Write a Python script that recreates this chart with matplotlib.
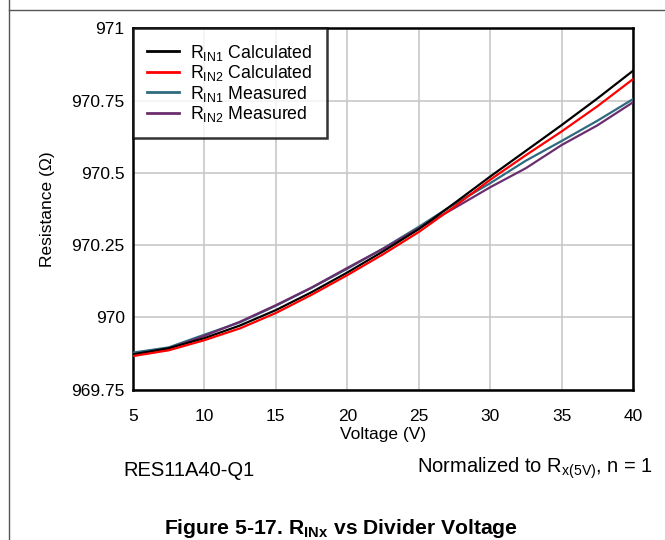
import numpy as np
import matplotlib
matplotlib.use('Agg')
import matplotlib.pyplot as plt
from matplotlib.lines import Line2D

plt.rcParams['font.family'] = ['Liberation Sans', 'DejaVu Sans']
plt.rcParams['mathtext.fontset'] = 'custom'
plt.rcParams['mathtext.rm'] = 'Liberation Sans'
plt.rcParams['mathtext.it'] = 'Liberation Sans:italic'
plt.rcParams['mathtext.bf'] = 'Liberation Sans:bold'

# Spannung (V)
voltage = [5, 7.5, 10, 12.5, 15, 17.5, 20, 22.5, 25, 27.5, 30, 32.5, 35, 37.5, 40]

# Widerstand (Ohm)
rin1_calc = [969.872, 969.893, 969.928, 969.972, 970.025, 970.087, 970.155, 970.228,
             970.305, 970.395, 970.487, 970.576, 970.665, 970.757, 970.853]
rin2_calc = [969.866, 969.886, 969.921, 969.962, 970.015, 970.078, 970.146, 970.218,
             970.295, 970.383, 970.476, 970.561, 970.643, 970.730, 970.824]
rin1_meas = [969.878, 969.896, 969.940, 969.983, 970.040, 970.102, 970.168, 970.238,
             970.313, 970.392, 970.464, 970.542, 970.610, 970.680, 970.755]
rin2_meas = [969.870, 969.892, 969.936, 969.985, 970.042, 970.103, 970.171, 970.237,
             970.308, 970.378, 970.450, 970.516, 970.596, 970.664, 970.744]

labels = [r'R$_{\mathrm{IN1}}$ Calculated', r'R$_{\mathrm{IN2}}$ Calculated',
          r'R$_{\mathrm{IN1}}$ Measured', r'R$_{\mathrm{IN2}}$ Measured']
colors = ['#000000', '#ff0000', '#2f6a80', '#6a2e6e']

x_ticks = [5, 10, 15, 20, 25, 30, 35, 40]
y_ticks = [969.75, 970, 970.25, 970.5, 970.75, 971]
y_ticklabels = ['969.75', '970', '970.25', '970.5', '970.75', '971']


def main():
    fig = plt.figure(figsize=(6.65, 5.4), dpi=100)
    ax = fig.add_axes([133 / 665, 1 - 389.6 / 540, 500 / 665, (389.6 - 28.3) / 540])

    series = [rin1_calc, rin2_calc, rin1_meas, rin2_meas]
    # Messkurven zuerst, berechnete Kurven oben drauf
    for i in [2, 3, 0, 1]:
        ax.plot(voltage, series[i], color=colors[i], lw=1.6, label=labels[i], zorder=3)

    ax.set_xlim(5, 40)
    ax.set_ylim(969.75, 971)
    ax.set_xticks(x_ticks)
    ax.set_yticks(y_ticks)
    ax.set_yticklabels(y_ticklabels)
    ax.tick_params(length=0, labelsize=12.5)
    ax.tick_params(axis='y', pad=6)
    ax.tick_params(axis='x', pad=14)
    ax.grid(True, color='#c4c4c4', lw=1.1)
    for s in ax.spines.values():
        s.set_linewidth(1.8)
        s.set_color('black')
    ax.set_xlabel('Voltage (V)', fontsize=12.5, labelpad=2)
    ax.set_ylabel('Resistance (Ω)', fontsize=12.5, labelpad=12)

    handles = [Line2D([], [], color=colors[i], lw=2) for i in range(4)]
    leg = ax.legend(handles, labels, loc='upper left', fontsize=12.8, frameon=True,
                    fancybox=False, edgecolor='black', borderaxespad=0,
                    handlelength=1.8, labelspacing=0.03, borderpad=0.8,
                    handletextpad=0.6)
    leg.get_frame().set_linewidth(1.8)
    leg.set_zorder(5)

    fig.text(189 / 665, 1 - 470 / 540, 'RES11A40-Q1', fontsize=14.5,
             ha='center', va='center')
    fig.text(653 / 665, 1 - 468 / 540, r'Normalized to R$_{\mathrm{x(5V)}}$, n = 1',
             fontsize=14.5, ha='right', va='center')
    fig.text(341 / 665, 1 - 528 / 540, r'Figure 5-17. R$_{\mathbf{INx}}$ vs Divider Voltage',
             fontsize=15.2, fontweight='bold', ha='center', va='center')

    # Seitenrahmen
    fig.add_artist(Line2D([9 / 665, 9 / 665], [0, 1], color='#555555', lw=1.0))
    fig.add_artist(Line2D([9 / 665, 1], [1 - 10 / 540, 1 - 10 / 540], color='#555555', lw=1.0))

    fig.savefig('out.png', dpi=100)


if __name__ == '__main__':
    main()
